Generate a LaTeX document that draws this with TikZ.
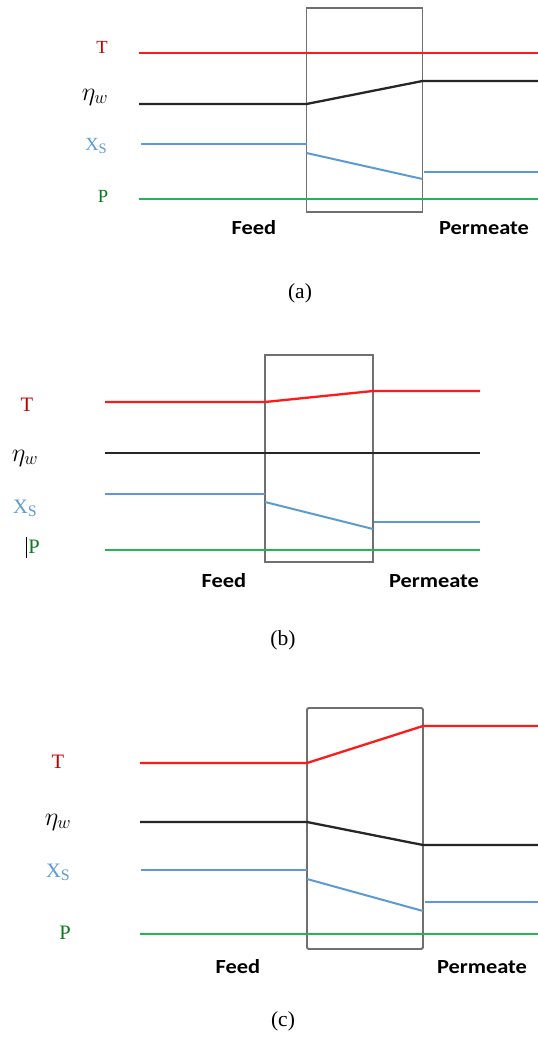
\RequirePackage{fix-cm}
\documentclass[tikz,border=0pt]{standalone}
\usepackage{fontspec}
\setmainfont{Liberation Serif}
\newfontfamily\calfont{Carlito}
\definecolor{tred}{HTML}{FF1A1A}
\definecolor{tlab}{HTML}{C00000}
\definecolor{xblue}{HTML}{5B9BD5}
\definecolor{pgreen}{HTML}{22B556}
\definecolor{plab}{HTML}{0A7A1E}
\definecolor{boxgray}{HTML}{707070}
\newcommand\xslabel{X\raisebox{-0.3ex}{\scalebox{0.78}{S}}}
\newcommand\etalabel{\scalebox{1.3}{$\eta_w$}}
\begin{document}
\begin{tikzpicture}[x=1pt,y=-1pt,
  tline/.style={draw=tred,line width=2.3pt},
  eline/.style={draw=black!85,line width=2.3pt},
  xline/.style={draw=xblue,line width=2pt},
  pline/.style={draw=pgreen,line width=2.3pt},
  membox/.style={draw=boxgray,line width=1.9pt},
  lab/.style={inner sep=0pt},
  labA/.style={lab,font=\fontsize{18.5}{20}\selectfont},
  labB/.style={lab,font=\fontsize{20.5}{22}\selectfont},
  etaA/.style={lab,font=\fontsize{20}{22}\selectfont},
  side/.style={inner sep=0pt,font=\calfont\bfseries\fontsize{20}{22}\selectfont},
  capt/.style={inner sep=0pt,font=\fontsize{21.5}{23}\selectfont}]
\useasboundingbox (0,0) rectangle (538,1039);
\fill[white] (0,0) rectangle (538,1039);

% ---------- (a) ----------
\draw[membox] (306.5,8) rectangle (422.5,212);
\coordinate (aT1) at (139,53); \coordinate (aT2) at (538,53);
\coordinate (aE1) at (139,104); \coordinate (aE2) at (306.5,104);
\coordinate (aE3) at (422.5,81); \coordinate (aE4) at (538,81);
\coordinate (aX1) at (141,144); \coordinate (aX2) at (306.5,144);
\coordinate (aX3) at (306.5,153); \coordinate (aX4) at (422.5,179);
\coordinate (aX5) at (424,172); \coordinate (aX6) at (538,172);
\coordinate (aP1) at (139,199); \coordinate (aP2) at (538,199);
\draw[tline] (aT1) -- (aT2);
\draw[eline] (aE1) -- (aE2) -- (aE3) -- (aE4);
\draw[xline] (aX1) -- (aX2);
\draw[xline] (aX3) -- (aX4);
\draw[xline] (aX5) -- (aX6);
\draw[pline] (aP1) -- (aP2);
\node[labA,text=tlab] (aTl) at (102,47) {T};
\node[etaA] (aEl) at (95,97) {\etalabel};
\node[labA,text=xblue] (aXl) at (96,146) {\xslabel};
\node[labA,text=plab] (aPl) at (103,196) {P};
\node[side] (aFeed) at (254,228) {\scalebox{1.12}[1]{Feed}};
\node[side] (aPerm) at (484,228) {\scalebox{1.12}[1]{Permeate}};
\node[capt] (acap) at (300,293) {(a)};

% ---------- (b) ----------
\draw[membox] (265,355) rectangle (373,562);
\coordinate (bT1) at (105,402); \coordinate (bT2) at (265,402);
\coordinate (bT3) at (373,391); \coordinate (bT4) at (480,391);
\coordinate (bE1) at (105,453); \coordinate (bE2) at (480,453);
\coordinate (bX1) at (105,494); \coordinate (bX2) at (265,494);
\coordinate (bX3) at (265,502); \coordinate (bX4) at (373,529);
\coordinate (bX5) at (374,522); \coordinate (bX6) at (480,522);
\coordinate (bP1) at (105,550); \coordinate (bP2) at (480,550);
\draw[tline] (bT1) -- (bT2) -- (bT3) -- (bT4);
\draw[eline] (bE1) -- (bE2);
\draw[xline] (bX1) -- (bX2);
\draw[xline] (bX3) -- (bX4);
\draw[xline] (bX5) -- (bX6);
\draw[pline] (bP1) -- (bP2);
\node[labB,text=tlab] (bTl) at (27,405) {T};
\node[etaA] (bEl) at (25,458) {\etalabel};
\node[labB,text=xblue] (bXl) at (25,508) {\xslabel};
\node[labB,text=plab] (bPl) at (34,547) {P};
\coordinate (bc1) at (26,537); \coordinate (bc2) at (26,558);
\draw[line width=0.8pt] (bc1) -- (bc2);
\node[side] (bFeed) at (224,581) {\scalebox{1.12}[1]{Feed}};
\node[side] (bPerm) at (434,581) {\scalebox{1.12}[1]{Permeate}};
\node[capt] (bcap) at (283,640) {(b)};

% ---------- (c) ----------
\draw[membox,rounded corners=1.5pt] (307,708) rectangle (423,949);
\coordinate (cT1) at (140,763); \coordinate (cT2) at (307,763);
\coordinate (cT3) at (423,726); \coordinate (cT4) at (538,726);
\coordinate (cE1) at (140,822); \coordinate (cE2) at (307,822);
\coordinate (cE3) at (423,845); \coordinate (cE4) at (538,845);
\coordinate (cX1) at (141,870); \coordinate (cX2) at (307,870);
\coordinate (cX3) at (307,879); \coordinate (cX4) at (423,911);
\coordinate (cX5) at (425,902); \coordinate (cX6) at (538,902);
\coordinate (cP1) at (140,934); \coordinate (cP2) at (538,934);
\draw[tline] (cT1) -- (cT2) -- (cT3) -- (cT4);
\draw[eline] (cE1) -- (cE2) -- (cE3) -- (cE4);
\draw[xline] (cX1) -- (cX2);
\draw[xline] (cX3) -- (cX4);
\draw[xline] (cX5) -- (cX6);
\draw[pline] (cP1) -- (cP2);
\node[labB,text=tlab] (cTl) at (58,762) {T};
\node[etaA] (cEl) at (58,822) {\etalabel};
\node[labB,text=xblue] (cXl) at (58,872) {\xslabel};
\node[labB,text=plab] (cPl) at (65,933) {P};
\node[side] (cFeed) at (238,967) {\scalebox{1.12}[1]{Feed}};
\node[side] (cPerm) at (482,967) {\scalebox{1.12}[1]{Permeate}};
\node[capt] (ccap) at (283,1021) {(c)};
\end{tikzpicture}
\end{document}
